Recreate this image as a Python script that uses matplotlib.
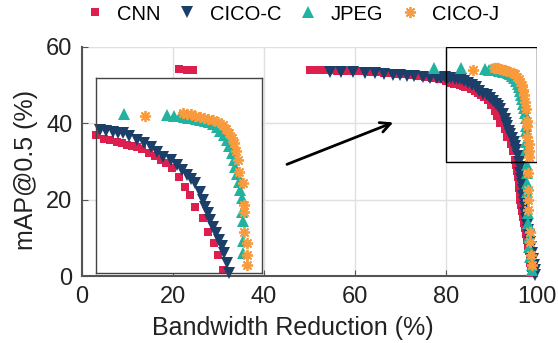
import matplotlib
matplotlib.use("Agg")
import matplotlib.pyplot as plt
from matplotlib.patches import Rectangle

plt.rcParams['font.family'] = ['Liberation Sans', 'DejaVu Sans']

# --- data ---
cnn_x = [21.4, 23.0, 24.4,
         50.2, 51.5, 53.0, 54.5, 56.0, 57.5, 59.0, 60.5, 62.0, 63.5, 65.0, 66.5,
         68.0, 69.5, 71.0, 72.5, 74.0, 75.5, 77.0, 78.5, 80.0,
         81.0, 81.7, 82.5, 83.1, 83.7, 84.3, 84.9, 85.6, 86.4, 87.1, 87.8, 88.5,
         89.2, 90.0, 90.7, 91.3, 92.0, 92.9, 93.5, 94.3, 94.7, 95.3,
         95.5, 95.7, 95.8, 96.0, 96.1, 96.3, 96.4, 96.6, 96.8, 97.0, 97.2,
         97.4, 97.6, 97.8, 98.0, 98.2, 98.4, 98.6, 98.8, 99.0]
cnn_y = [54.3, 54.0, 54.0,
         53.9, 53.9, 53.9, 53.9, 53.8, 53.8, 53.7, 53.6, 53.6, 53.5, 53.4, 53.3,
         53.1, 53.0, 52.8, 52.6, 52.4, 52.1, 51.8, 51.5, 51.2,
         50.6, 50.4, 50.2, 50.0, 49.7, 49.6, 49.4, 49.0, 48.5, 48.0, 47.4, 46.9,
         46.2, 44.8, 43.3, 42.0, 40.2, 38.5, 36.3, 34.6, 32.8, 30.5,
         29.0, 27.5, 26.0, 24.5, 23.0, 21.5, 20.0, 18.5, 17.0, 15.5, 14.0,
         12.5, 11.0, 9.5, 8.0, 6.5, 5.0, 3.5, 2.0, 0.8]

cicoc_x = [54.5, 57.0, 59.6, 62.2, 64.4, 66.5, 68.4, 70.0, 71.4, 73.0, 75.0, 76.5,
           78.0, 79.0, 79.9, 80.5, 81.2, 82.0, 82.6, 83.3, 84.0, 84.9, 85.8,
           86.7, 87.4, 88.1, 89.0, 89.8, 90.4, 91.0, 91.5, 92.0, 92.5, 92.9,
           93.2, 93.5, 93.8, 94.1, 94.5, 94.9, 95.2, 95.5, 95.8, 96.1,
           96.3, 96.4, 96.6, 96.7, 96.9, 97.0, 97.2, 97.4, 97.5, 97.7,
           97.9, 98.1, 98.3, 98.5, 98.7, 98.9, 99.1, 99.3, 99.5, 99.7]
cicoc_y = [53.5, 53.5, 53.5, 53.2, 53.2, 53.0, 52.7, 52.6, 52.4, 52.3, 52.1, 51.9,
           51.8, 51.9, 52.2, 52.0, 51.9, 51.7, 51.6, 51.5, 51.1, 50.5, 50.0,
           49.4, 48.6, 47.8, 47.3, 46.6, 45.9, 45.1, 44.5, 43.8, 42.5, 41.2,
           40.2, 39.2, 38.1, 37.1, 36.1, 35.1, 34.1, 33.1, 31.5, 30.0,
           28.5, 27.0, 25.5, 24.0, 22.5, 21.0, 19.5, 18.0, 16.5, 15.0,
           13.5, 12.0, 10.5, 9.0, 7.5, 6.0, 4.5, 3.0, 1.5, 0.3]

jpeg_x = [77.4, 83.4, 88.6, 89.4, 90.1, 90.6, 91.1, 91.6, 92.1, 92.6, 93.1, 93.6,
          94.1, 94.6, 95.0, 95.4, 95.8, 96.1, 96.4, 96.6, 96.8, 97.0, 97.2,
          97.4, 97.6, 97.6, 97.7, 97.7, 97.7, 97.8, 97.8, 97.9, 97.9, 98.0,
          98.0, 98.2, 98.3, 98.5, 98.9, 99.0]
jpeg_y = [54.6, 54.4, 54.3, 54.1, 54.2, 54.0, 53.9, 53.8, 53.7, 53.5, 53.4, 53.2,
          52.9, 52.4, 51.9, 51.2, 50.4, 49.5, 48.5, 47.4, 46.3, 45.2, 44.0,
          42.8, 41.5, 39.4, 38.0, 35.0, 33.1, 29.0, 27.0, 24.5, 22.0, 16.5,
          13.9, 10.2, 7.5, 5.0, 2.9, 1.6]

cicoj_x = [85.9, 90.5, 91.0, 91.5, 92.0, 92.5, 93.0, 93.5, 94.1, 94.7, 95.3, 95.7,
           96.1, 96.4, 96.7, 96.9, 97.1, 97.3, 97.7, 97.9, 97.9, 97.9, 98.2,
           98.2, 98.2, 98.0, 98.0, 98.0, 98.0, 98.5, 98.5, 98.7, 98.9]
cicoj_y = [54.1, 54.6, 54.5, 54.4, 54.2, 54.0, 53.9, 53.7, 53.5, 53.2, 52.8, 52.2,
           51.5, 50.8, 50.0, 48.7, 47.4, 45.5, 43.8, 40.5, 39.4, 36.3, 34.6,
           32.8, 31.2, 27.0, 22.5, 19.9, 17.3, 11.5, 8.9, 5.5, 2.9]

series = [
    ("CNN", cnn_x, cnn_y, dict(marker='s', color='#DC1F4E', ms=6, mew=0)),
    ("CICO-C", cicoc_x, cicoc_y, dict(marker='v', color='#1C3F69', ms=8, mew=0)),
    ("JPEG", jpeg_x, jpeg_y, dict(marker='^', color='#22B2A0', ms=8, mew=0)),
    ("CICO-J", cicoj_x, cicoj_y, dict(marker=(8, 2, 0), color='#F99A3C', ms=8, mew=1.3)),
]

fig = plt.figure(figsize=(5.58, 3.43), dpi=100)
ax = fig.add_axes([0.147, 0.195, 0.815, 0.668])

for name, xs, ys, st in series:
    ax.plot(xs, ys, ls='none', marker=st['marker'], color=st['color'],
            ms=st['ms'], mew=st['mew'], label=name, clip_on=False, zorder=3)

ax.set_xlim(0, 100)
ax.set_ylim(0, 60)
ax.set_xticks([0, 20, 40, 60, 80, 100])
ax.set_yticks([0, 20, 40, 60])
ax.grid(True, color='#e0e0e0', lw=1)
ax.set_axisbelow(True)
for s in ['top', 'right']:
    ax.spines[s].set_visible(False)
for s in ['left', 'bottom']:
    ax.spines[s].set_color('#555555')
    ax.spines[s].set_linewidth(1.5)
ax.tick_params(direction='in', length=4, colors='#555555', labelcolor='#222222',
               labelsize=17, pad=7)
ax.set_xlabel("Bandwidth Reduction (%)", fontsize=18, color='#222222')
ax.set_ylabel("mAP@0.5 (%)", fontsize=18, color='#222222')
ax.xaxis.set_label_coords(0.464, -0.175)
ax.yaxis.set_label_coords(-0.097, 0.463)

# zoom box and arrow
ax.add_patch(Rectangle((80, 30), 20, 30, fill=False, ec='black', lw=1, zorder=4))
ax.annotate("", xy=(69, 40.5), xytext=(44.5, 29),
            arrowprops=dict(arrowstyle='->', lw=2, color='black', mutation_scale=18))

leg = ax.legend(loc='center', bbox_to_anchor=(293 / 558, 1 - 14 / 343),
                bbox_transform=fig.transFigure, ncol=4, frameon=False,
                fontsize=14.5, handletextpad=0.7, columnspacing=0.95,
                handlelength=0.8, borderaxespad=0, borderpad=0)

# inset
axin = fig.add_axes([0.172, 0.204, 0.297, 0.569])
axin.set_zorder(5)
for name, xs, ys, st in series:
    pts = [(x, y) for x, y in zip(xs, ys) if 80 <= x <= 100 and 30 <= y <= 60]
    axin.plot([p[0] for p in pts], [p[1] for p in pts], ls='none',
              marker=st['marker'], color=st['color'], ms=st['ms'], mew=st['mew'],
              clip_on=False)
axin.set_xlim(80, 100)
axin.set_ylim(30, 60)
axin.set_xticks([])
axin.set_yticks([])
for s in axin.spines.values():
    s.set_color('#444444')
    s.set_linewidth(1)

fig.savefig("out.png", dpi=100)
